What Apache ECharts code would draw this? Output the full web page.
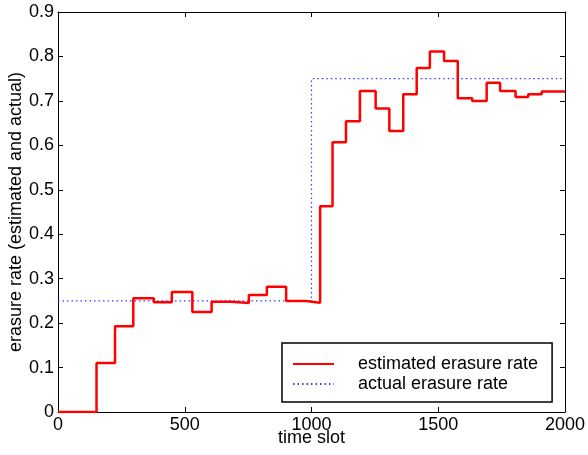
<!DOCTYPE html>
<html>
<head>
<meta charset="utf-8">
<script src="https://cdn.jsdelivr.net/npm/echarts@6/dist/echarts.min.js"></script>
<style>
  html, body { margin: 0; padding: 0; background: #fff; }
  #chart { width: 588px; height: 455px; }
</style>
</head>
<body>
<div id="chart"></div>
<script>
// step edges (time slot where each level begins) and levels of the estimate
const estStart = [0, 152, 225, 297, 378, 449, 530, 606, 684, 753, 824, 900, 978,
  1034, 1083, 1136, 1191, 1253, 1307, 1362, 1415, 1467, 1523, 1577, 1634, 1691,
  1744, 1805, 1855, 1908, 2000]
const estValue = [0, 0.11, 0.193, 0.256, 0.247, 0.27, 0.225, 0.248, 0.245, 0.263, 0.282, 0.25, 0.246,
  0.463, 0.607, 0.654, 0.722, 0.683, 0.632, 0.715, 0.774, 0.811, 0.79, 0.706, 0.7, 0.741,
  0.722, 0.709, 0.715, 0.721, 0.721]
const actStart = [0, 1000, 2000]
const actValue = [0.25, 0.75, 0.75]

const xTicks = { min: 0, max: 2000, interval: 500 }
const yTicks = { min: 0, max: 0.9, interval: 0.1 }

const font = 'Liberation Sans, Arial, sans-serif'
const fs = 18
const chart = echarts.init(document.getElementById('chart'))

const tickStyle = { show: true, inside: true, length: 5, lineStyle: { color: '#000', width: 1 } }
const lineStyle = { show: true, onZero: false, lineStyle: { color: '#000', width: 1 } }

chart.setOption({
  animation: false,
  backgroundColor: '#fff',
  grid: { left: 58, top: 12, width: 507, height: 400, outerBoundsMode: 'none', containLabel: false },
  xAxis: [{
    type: 'value', ...xTicks,
    name: 'time slot', nameLocation: 'middle', nameGap: 17, nameMoveOverlap: false,
    nameTextStyle: { fontFamily: font, fontSize: fs, color: '#000' },
    axisLine: lineStyle, axisTick: tickStyle, splitLine: { show: false },
    axisLabel: { fontFamily: font, fontSize: fs, color: '#000', margin: 4, formatter: v => String(v) }
  }, {
    type: 'value', ...xTicks, position: 'top',
    axisLine: lineStyle, axisTick: tickStyle, splitLine: { show: false },
    axisLabel: { show: false }
  }],
  yAxis: [{
    type: 'value', ...yTicks,
    name: 'erasure rate (estimated and actual)', nameLocation: 'middle', nameGap: 33, nameMoveOverlap: false,
    nameTextStyle: { fontFamily: font, fontSize: fs, color: '#000' },
    axisLine: lineStyle, axisTick: tickStyle, splitLine: { show: false },
    axisLabel: { fontFamily: font, fontSize: fs, color: '#000', margin: 4,
      formatter: v => v === 0 ? '0' : v.toFixed(1) }
  }, {
    type: 'value', ...yTicks, position: 'right',
    axisLine: lineStyle, axisTick: tickStyle, splitLine: { show: false },
    axisLabel: { show: false }
  }],
  legend: {
    orient: 'vertical', left: 282, top: 343,
    padding: [11, 14, 8, 10], itemGap: 0,
    itemWidth: 41, itemHeight: 20,
    borderColor: '#000', borderWidth: 1.5, backgroundColor: '#fff',
    itemStyle: { opacity: 0 },
    textStyle: { fontFamily: font, fontSize: fs, color: '#000', padding: [0, 0, 0, 19], lineHeight: 20 },
    data: ['estimated erasure rate', 'actual erasure rate']
  },
  series: [{
    name: 'estimated erasure rate', type: 'line', step: 'end', symbol: 'none',
    data: estStart.map((x, i) => [x, estValue[i]]),
    lineStyle: { color: '#ff0000', width: 2.5 }, itemStyle: { color: '#ff0000' }, z: 3
  }, {
    name: 'actual erasure rate', type: 'line', step: 'end', symbol: 'none',
    data: actStart.map((x, i) => [x, actValue[i]]),
    lineStyle: { color: '#3a3aff', width: 1.2, type: [1.5, 3] }, itemStyle: { color: '#3a3aff' }, z: 2
  }]
})
</script>
</body>
</html>
